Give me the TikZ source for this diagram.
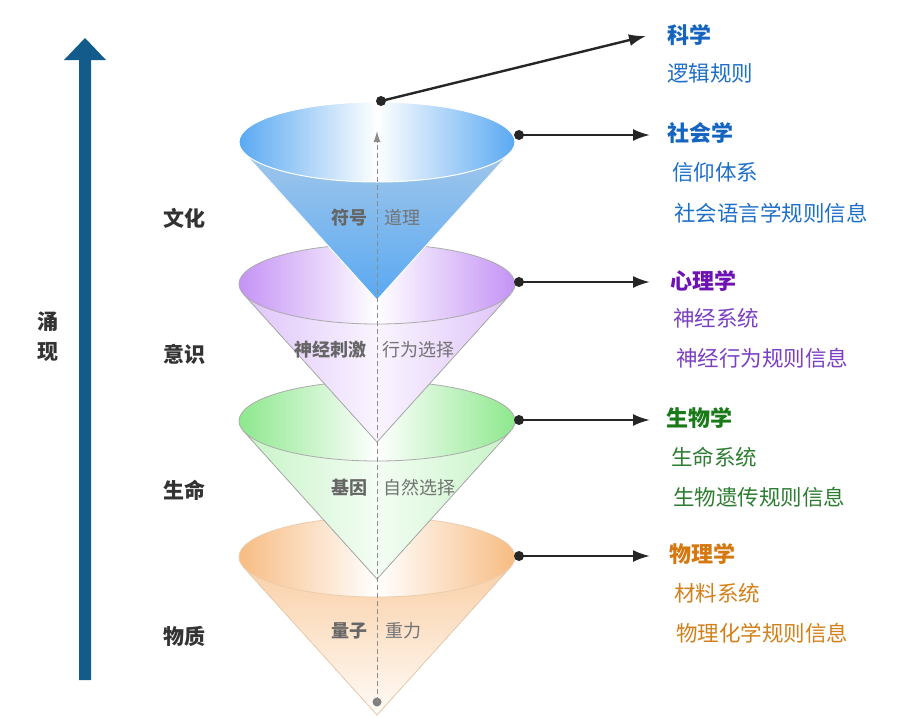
\documentclass[tikz,border=0pt]{standalone}
\usepackage{fontspec}
\newfontfamily\cjk{Noto Sans CJK SC}
\usetikzlibrary{arrows.meta}
\definecolor{emblue}{HTML}{125B8A}
\definecolor{sciblue}{HTML}{1565C0}
\definecolor{subblue}{HTML}{1E6FC8}
\definecolor{psyc}{HTML}{6F12B5}
\definecolor{subpsy}{HTML}{7B3FC4}
\definecolor{bioc}{HTML}{1A7A1A}
\definecolor{subbio}{HTML}{2E7D32}
\definecolor{phyc}{HTML}{D4780F}
\definecolor{subphy}{HTML}{D4801A}
\definecolor{faceblue}{HTML}{5AA9F2}
\definecolor{facepur}{HTML}{C493F5}
\definecolor{facegrn}{HTML}{8DE88D}
\definecolor{faceorg}{HTML}{F7BC82}
\definecolor{conegray}{HTML}{ABABAB}
\definecolor{orgline}{HTML}{EBCDAE}
\newcommand\conelayer[4]{%
  \fill[#4] (243.4,#1+10) -- (377,#1+158) -- (510.6,#1+10) -- cycle;
  \draw[#3] (243.4,#1+10) -- (377,#1+158) -- (510.6,#1+10);
  \shade[left color=#2,right color=#2,middle color=white] (377,#1) ellipse [x radius=138,y radius=40];
  \draw[#3] (377,#1) ellipse [x radius=138,y radius=40];
}
\begin{document}
\begin{tikzpicture}[x=1pt,y=-1pt,
  lvl/.style={font=\cjk\fontsize{21}{24}\selectfont\bfseries, text=black!80, inner sep=0pt},
  inb/.style={font=\cjk\fontsize{18}{20}\selectfont\bfseries, text=black!60, inner sep=0pt, anchor=east},
  inr/.style={font=\cjk\fontsize{18}{20}\selectfont, text=black!55, inner sep=0pt, anchor=west},
  head/.style={font=\cjk\fontsize{22}{24}\selectfont\bfseries, inner sep=0pt, anchor=west},
  sub/.style={font=\cjk\fontsize{21.5}{24}\selectfont, inner sep=0pt, anchor=west},
  bdot/.style={circle, fill=black!85, inner sep=0pt, minimum size=10pt},
  conn/.style={draw=black!85, line width=2.4pt, -{Latex[length=17pt,width=12pt]}}
]
\useasboundingbox (0,0) rectangle (910,718);
\fill[white] (0,0) rectangle (910,718);

% big emergence arrow
\fill[emblue] (79,680) -- (79,60) -- (64,60) -- (85,38) -- (106,60) -- (91,60) -- (91,680) -- cycle;
\node[lvl, align=center, font=\cjk\fontsize{21}{30}\selectfont\bfseries] (emer) at (48,337) {涌\\现};

% cones, bottom to top
\conelayer{557}{faceorg}{orgline, line width=0.8pt}{top color=faceorg!70, bottom color=orange!3}
\conelayer{421}{facegrn}{conegray, line width=0.8pt}{left color=facegrn!50, right color=facegrn!50, middle color=facegrn!10}
\conelayer{284}{facepur}{conegray, line width=0.8pt}{left color=facepur!55, right color=facepur!55, middle color=facepur!10}
\conelayer{142}{faceblue}{white, line width=1pt}{top color=black!10!faceblue!55!white, bottom color=faceblue}

% dashed axis
\node[circle, fill=black!50, inner sep=0pt, minimum size=9pt] (base) at (377,702) {};
\coordinate (axtop) at (377,131);
\draw[black!45, line width=1pt, dash pattern=on 5pt off 3pt, -{Latex[length=11pt,width=7pt]}] (base.center) -- (axtop);

% inner labels
\node[inb] (s1) at (368,218) {符号};
\node[inr] (r1) at (384,218) {道理};
\node[inb] (s2) at (367,350) {神经刺激};
\node[inr] (r2) at (382,350) {行为选择};
\node[inb] (s3) at (368,488) {基因};
\node[inr] (r3) at (383,488) {自然选择};
\node[inb] (s4) at (368,631) {量子};
\node[inr] (r4) at (385,631) {重力};

% left level labels
\node[lvl] (l1) at (184,218) {文化};
\node[lvl] (l2) at (184,354) {意识};
\node[lvl] (l3) at (184,490) {生命};
\node[lvl] (l4) at (184,636) {物质};

% connectors
\node[bdot] (d0) at (381,101) {};
\node[bdot] (d1) at (519,135) {};
\node[bdot] (d2) at (519,282) {};
\node[bdot] (d3) at (519,420) {};
\node[bdot] (d4) at (519,556) {};
\coordinate (t0) at (646,36);
\coordinate (t1) at (650,135);
\coordinate (t2) at (650,282);
\coordinate (t3) at (650,420);
\coordinate (t4) at (650,556);
\draw[conn] (d0.center) -- (t0);
\draw[conn] (d1.center) -- (t1);
\draw[conn] (d2.center) -- (t2);
\draw[conn] (d3.center) -- (t3);
\draw[conn] (d4.center) -- (t4);

% right texts
\node[head, text=sciblue] (h0) at (667,35) {科学};
\node[sub, text=subblue] (a0) at (667,73) {逻辑规则};
\node[head, text=sciblue] (h1) at (667,133) {社会学};
\node[sub, text=subblue] (a1) at (672,172) {信仰体系};
\node[sub, text=subblue] (b1) at (674,213) {社会语言学规则信息};
\node[head, text=psyc] (h2) at (670,281) {心理学};
\node[sub, text=subpsy] (a2) at (673,318) {神经系统};
\node[sub, text=subpsy] (b2) at (676,358) {神经行为规则信息};
\node[head, text=bioc] (h3) at (666,418) {生物学};
\node[sub, text=subbio] (a3) at (671,457) {生命系统};
\node[sub, text=subbio] (b3) at (673,497) {生物遗传规则信息};
\node[head, text=phyc] (h4) at (669,554) {物理学};
\node[sub, text=subphy] (a4) at (674,593) {材料系统};
\node[sub, text=subphy] (b4) at (676,633) {物理化学规则信息};
\end{tikzpicture}
\end{document}
